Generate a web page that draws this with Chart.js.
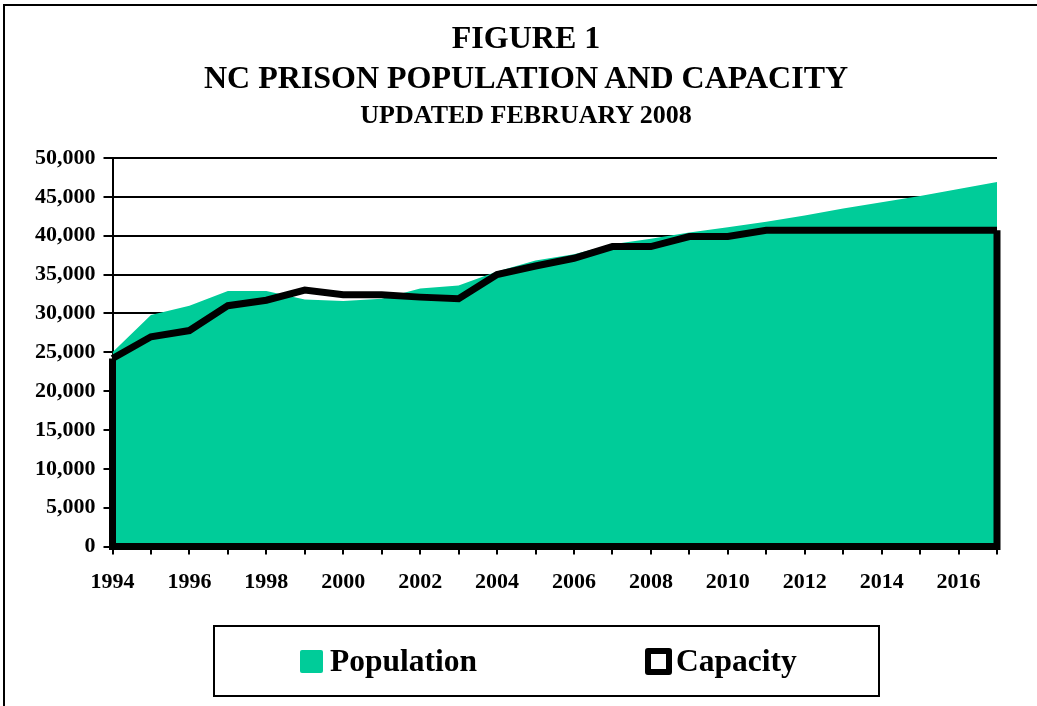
<!DOCTYPE html>
<html>
<head>
<meta charset="utf-8">
<script src="https://cdn.jsdelivr.net/npm/chart.js@4"></script>
<style>
  html, body { margin: 0; padding: 0; background: #fff; }
  body { width: 1037px; height: 706px; position: relative; overflow: hidden; font-family: "Liberation Serif", "Times New Roman", serif; }
  #frame { position: absolute; left: 3px; top: 4px; width: 1100px; height: 800px; border-left: 2.5px solid #000; border-top: 2.5px solid #000; box-sizing: border-box; }
  #wrap { position: absolute; left: 0; top: 0; width: 1037px; height: 706px; }
  .ttl { position: absolute; left: 26px; width: 1000px; text-align: center; font-weight: bold; color: #000; white-space: nowrap; }
  #legend { position: absolute; left: 213px; top: 625px; width: 667px; height: 72px; border: 2px solid #000; box-sizing: border-box; }
  .item { position: absolute; top: 0; height: 68px; display: flex; align-items: center; font-weight: bold; font-size: 31.5px; color: #000; }
  .sw-pop { width: 23px; height: 23px; background: #00CC99; border-radius: 2px; margin-right: 7px; }
  .sw-cap { width: 27px; height: 27px; border: 6px solid #000; border-radius: 3px; box-sizing: border-box; margin-right: 4px; }
</style>
</head>
<body>
<div id="frame"></div>
<div id="wrap"><canvas id="c" width="1037" height="706"></canvas></div>
<div class="ttl" id="t1" style="top:17px; font-size:32px; line-height:40px;"></div>
<div class="ttl" id="t2" style="top:57px; font-size:32px; line-height:40px;"></div>
<div class="ttl" id="t3" style="top:100px; font-size:26px; line-height:30px;"></div>
<div id="legend">
  <div class="item" style="left:85px"><div class="sw-pop"></div><span id="lp"></span></div>
  <div class="item" style="left:430px"><div class="sw-cap"></div><span id="lc"></span></div>
</div>
<script>
const years = [1994,1995,1996,1997,1998,1999,2000,2001,2002,2003,2004,2005,2006,2007,2008,2009,2010,2011,2012,2013,2014,2015,2016,2017];
const population = [25000,29800,31000,32900,32900,31800,31600,31900,33200,33600,35400,36800,37600,38900,39600,40400,41100,41800,42600,43500,44300,45100,46000,46900];
const capacity = [24200,27000,27800,31000,31700,33000,32400,32400,32100,31900,35000,36100,37100,38600,38600,39900,39900,40700,40700,40700,40700,40700,40700,40700];
const yTicks = [0,5000,10000,15000,20000,25000,30000,35000,40000,45000,50000];
const seriesNames = ['Population','Capacity'];
const titleLines = ['FIGURE 1','NC PRISON POPULATION AND CAPACITY','UPDATED FEBRUARY 2008'];

document.getElementById('t1').textContent = titleLines[0];
document.getElementById('t2').textContent = titleLines[1];
document.getElementById('t3').textContent = titleLines[2];
document.getElementById('lp').textContent = seriesNames[0];
document.getElementById('lc').textContent = seriesNames[1];

const FONT = "'Liberation Serif', 'Times New Roman', serif";

const capacityBox = {
  id: 'capacityBox',
  afterDatasetsDraw(chart) {
    const meta = chart.getDatasetMeta(0);
    const pts = meta.data;
    if (!pts.length) return;
    const yBase = chart.scales.y.getPixelForValue(0);
    const first = pts[0], last = pts[pts.length - 1];
    const ctx = chart.ctx;
    ctx.save();
    ctx.strokeStyle = '#000';
    ctx.lineWidth = 7;
    ctx.lineJoin = 'miter';
    ctx.beginPath();
    ctx.moveTo(first.x, first.y);
    ctx.lineTo(first.x, yBase);
    ctx.lineTo(last.x, yBase);
    ctx.lineTo(last.x, last.y);
    ctx.stroke();
    ctx.restore();
  }
};

new Chart(document.getElementById('c'), {
  type: 'line',
  data: {
    labels: years,
    datasets: [
      {
        label: seriesNames[1],
        data: capacity,
        borderColor: '#000',
        borderWidth: 7,
        borderJoinStyle: 'miter',
        pointRadius: 0,
        fill: false,
        tension: 0,
        order: 0
      },
      {
        label: seriesNames[0],
        data: population,
        backgroundColor: '#00CC99',
        borderColor: '#00CC99',
        borderWidth: 0,
        pointRadius: 0,
        fill: 'origin',
        tension: 0,
        order: 1
      }
    ]
  },
  options: {
    responsive: false,
    animation: false,
    events: [],
    layout: { padding: { left: 27, right: 40, top: 158, bottom: 95 } },
    plugins: {
      legend: { display: false },
      tooltip: { enabled: false },
      title: { display: false },
      subtitle: { display: false }
    },
    scales: {
      x: {
        type: 'category',
        offset: false,
        grid: { display: true, drawOnChartArea: false, drawTicks: true, tickLength: 8, color: '#000', lineWidth: 2 },
        border: { display: true, color: '#000', width: 2 },
        ticks: {
          autoSkip: false,
          maxRotation: 0,
          color: '#000',
          padding: 15,
          font: { family: FONT, size: 22, weight: 'bold' },
          callback: function(v, i) { const y = years[i]; return (y % 2 === 0 && i < years.length - 1) ? String(y) : ''; }
        }
      },
      y: {
        min: 0,
        max: 50000,
        afterBuildTicks: (axis) => { axis.ticks = yTicks.map(v => ({ value: v })); },
        grid: { display: true, drawOnChartArea: true, drawTicks: true, tickLength: 9, color: '#000', lineWidth: 2 },
        border: { display: true, color: '#000', width: 2 },
        ticks: {
          color: '#000',
          padding: 8,
          font: { family: FONT, size: 22, weight: 'bold' },
          callback: (v) => v.toLocaleString('en-US')
        }
      }
    }
  },
  plugins: [capacityBox]
});
</script>
</body>
</html>
